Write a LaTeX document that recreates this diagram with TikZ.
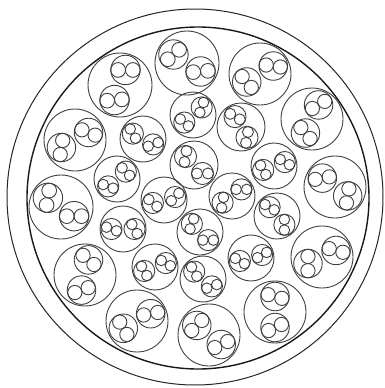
\documentclass[tikz,border=0pt]{standalone}
\begin{document}
\begin{tikzpicture}[x=1pt,y=1pt,
  shell/.style={draw=black!85,line width=1.0pt},
  jacket/.style={draw=black!90,line width=1.4pt},
  wire/.style={draw=black!75,line width=0.9pt}]
\useasboundingbox[fill=white] (0,0) rectangle (385,-388);
\newcommand\cableunit[6]{%
 \begin{scope}[shift={(#1,-#2)}]
  \pgfmathsetmacro\rs{0.46*#3}
  \pgfmathsetmacro\ds{0.5*#3}
  \pgfmathsetmacro\rc{0.5*\rs}
  \pgfmathsetmacro\dc{0.5*\rs}
  \draw[wire] (0,0) circle (#3);
  \begin{scope}[shift={(#4:\ds)}]
   \draw[wire] (0,0) circle (\rs);
   \draw[wire] (#5:\dc) circle (\rc);
   \draw[wire] (#5+180:\dc) circle (\rc);
  \end{scope}
  \begin{scope}[shift={(#4+180:\ds)}]
   \draw[wire] (0,0) circle (\rs);
   \draw[wire] (#6:\dc) circle (\rc);
   \draw[wire] (#6+180:\dc) circle (\rc);
  \end{scope}
 \end{scope}}
\draw[shell] (195,-197) circle (188);
\draw[jacket] (198,-198) circle (171);
% outer ring
\cableunit{187}{63}{32}{-32}{5}{40}
\cableunit{260}{74}{31}{31}{-8}{-50}
\cableunit{120}{85}{32}{70}{0}{5}
\cableunit{312}{119}{31}{65}{30}{-50}
\cableunit{75}{140}{31}{29}{-22}{80}
\cableunit{335}{187}{31}{-35}{80}{10}
\cableunit{61}{207}{32}{-35}{0}{80}
\cableunit{322}{257}{31}{25}{-15}{90}
\cableunit{85}{275}{31}{77}{-40}{20}
\cableunit{275}{312}{31}{90}{-15}{25}
\cableunit{137}{321}{31}{28}{10}{-60}
\cableunit{209}{335}{31}{-38}{25}{45}
% inner units
\cableunit{193}{115}{23}{41}{70}{-40}
\cableunit{143}{139}{23}{-28}{20}{-60}
\cableunit{241}{127}{24}{-60}{80}{-30}
\cableunit{194}{165}{24}{-45}{0}{80}
\cableunit{274}{166}{23}{20}{-30}{-60}
\cableunit{117}{179}{23}{40}{-45}{-20}
\cableunit{164}{200}{23}{15}{45}{-40}
\cableunit{232}{196}{23}{35}{0}{80}
\cableunit{277}{216}{23}{-50}{90}{-30}
\cableunit{123}{229}{23}{0}{-60}{-20}
\cableunit{200}{232}{23}{-45}{0}{70}
\cableunit{251}{258}{23}{15}{30}{-30}
\cableunit{155}{267}{23}{20}{-30}{-60}
\cableunit{203}{279}{23}{-40}{20}{-60}
\end{tikzpicture}
\end{document}
